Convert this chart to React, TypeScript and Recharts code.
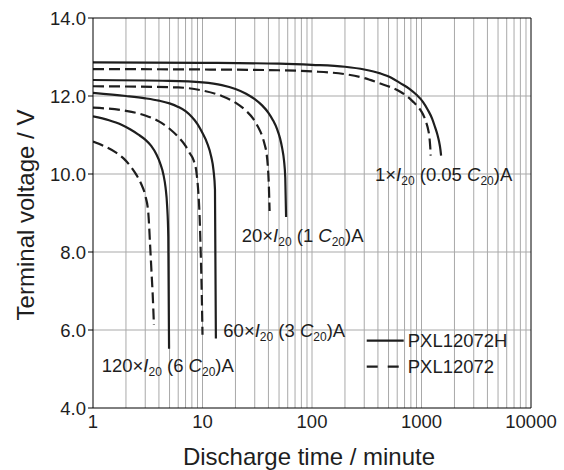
import React from 'react';
import { LineChart, Line, XAxis, YAxis, ReferenceLine, ReferenceDot } from 'recharts';

// ---- axes ----
const xTicks = [1, 10, 100, 1000, 10000];
const yTicks = [4, 6, 8, 10, 12, 14];
const xGrid = [2, 3, 4, 5, 6, 7, 8, 9, 10, 20, 30, 40, 50, 60, 70, 80, 90, 100, 200, 300, 400, 500, 600, 700, 800, 900, 1000, 2000, 3000, 4000, 5000, 6000, 7000, 8000, 9000];
const yGrid = [6, 8, 10, 12];

// ---- PXL12072H (solid) ----
const tH1 = [1, 10, 50, 100, 200, 300, 420, 530, 640, 770, 900, 1030, 1150, 1250, 1330, 1400, 1450, 1490, 1510];
const vH1 = [12.86, 12.85, 12.83, 12.8, 12.75, 12.68, 12.58, 12.47, 12.33, 12.19, 12.03, 11.85, 11.63, 11.42, 11.2, 11.0, 10.82, 10.62, 10.47];
const tH2 = [1, 5, 10, 15, 20, 25, 30, 35, 40, 44, 48, 51, 53.5, 55.5, 57, 58];
const vH2 = [12.41, 12.39, 12.35, 12.28, 12.18, 12.06, 11.92, 11.76, 11.57, 11.38, 11.15, 10.92, 10.65, 10.35, 9.9, 8.9];
const tH3 = [1, 2, 3, 4, 5, 6, 7, 8, 9, 10, 11, 12, 12.6, 13.0, 13.25];
const vH3 = [12.08, 12.0, 11.94, 11.88, 11.81, 11.72, 11.61, 11.46, 11.28, 11.05, 10.8, 10.45, 10.1, 9.6, 5.78];
const tH4 = [1, 1.4, 1.8, 2.2, 2.6, 3.0, 3.4, 3.8, 4.1, 4.4, 4.6, 4.75, 4.87, 4.95];
const vH4 = [11.48, 11.38, 11.27, 11.14, 11.01, 10.88, 10.72, 10.5, 10.28, 9.98, 9.65, 9.2, 8.4, 5.52];

// ---- PXL12072 (dashed) ----
const tS1 = [1, 10, 50, 100, 200, 300, 420, 530, 640, 740, 840, 930, 1000, 1060, 1110, 1150, 1180, 1200, 1213];
const vS1 = [12.69, 12.68, 12.66, 12.63, 12.56, 12.46, 12.32, 12.22, 12.11, 11.99, 11.85, 11.72, 11.6, 11.46, 11.3, 11.14, 10.95, 10.72, 10.47];
const tS2 = [1, 6, 10, 15, 20, 25, 29, 32, 35, 37, 38.5, 39.5, 40.3, 41];
const vS2 = [12.25, 12.22, 12.14, 12.0, 11.83, 11.62, 11.42, 11.22, 10.98, 10.75, 10.52, 10.2, 9.75, 9.05];
const tS3 = [1, 2, 3, 4, 5, 6, 7, 7.7, 8.3, 8.8, 9.15, 9.4, 9.63, 9.85, 10.0];
const vS3 = [11.7, 11.62, 11.5, 11.35, 11.16, 10.95, 10.72, 10.52, 10.35, 10.05, 9.55, 8.95, 8.0, 6.9, 5.88];
const tS4 = [1, 1.3, 1.6, 1.9, 2.2, 2.5, 2.75, 3.0, 3.2, 3.32, 3.42, 3.51, 3.6];
const vS4 = [10.83, 10.7, 10.56, 10.4, 10.2, 9.97, 9.75, 9.45, 9.0, 8.2, 7.5, 6.9, 6.13];

// ---- annotation labels ----
const rateMult = ['1', '20', '60', '120'];
const rateC = ['0.05', '1', '3', '6'];
const legendNames = ['PXL12072H', 'PXL12072'];

const toPoints = (t: number[], v: number[]) => t.map((x, i) => ({ t: x, v: v[i] }));

const FONT = '"Liberation Sans", Arial, Helvetica, sans-serif';
const INK = '#1e1e1e';
const GRID = '#a9a9a9';
const DASH = '11 5';

const seriesList = [
  { id: 'h1', data: toPoints(tH1, vH1), dash: undefined },
  { id: 'h2', data: toPoints(tH2, vH2), dash: undefined },
  { id: 'h3', data: toPoints(tH3, vH3), dash: undefined },
  { id: 'h4', data: toPoints(tH4, vH4), dash: undefined },
  { id: 's1', data: toPoints(tS1, vS1), dash: DASH },
  { id: 's2', data: toPoints(tS2, vS2), dash: DASH },
  { id: 's3', data: toPoints(tS3, vS3), dash: DASH },
  { id: 's4', data: toPoints(tS4, vS4), dash: DASH },
];

// anchor points (data coordinates) for the rate labels
const labelAnchors = [
  { t: 376, v: 9.83 },
  { t: 22.8, v: 8.26 },
  { t: 15.5, v: 5.81 },
  { t: 1.2, v: 4.93 },
];

const RateLabel = (mult: string, c: string) => (props: any) => (
  <text x={props.cx} y={props.cy} fontFamily={FONT} fontSize={18.5} fill={INK}>
    {mult}×<tspan fontStyle="italic">I</tspan>
    <tspan fontSize={12} dy={4}>20</tspan>
    <tspan dy={-4}>{` (${c} `}</tspan>
    <tspan fontStyle="italic">C</tspan>
    <tspan fontSize={12} dy={4}>20</tspan>
    <tspan dy={-4}>)A</tspan>
  </text>
);

const LegendShape = (props: any) => {
  const x = props.cx;
  const y = props.cy;
  return (
    <g fontFamily={FONT} fontSize={18.5} fill={INK}>
      <line x1={x} y1={y} x2={x + 37} y2={y} stroke={INK} strokeWidth={2.2} />
      <text x={x + 41} y={y + 6.5}>{legendNames[0]}</text>
      <line x1={x} y1={y + 26} x2={x + 33} y2={y + 26} stroke={INK} strokeWidth={2.2} strokeDasharray="11 10" />
      <text x={x + 41} y={y + 32.5}>{legendNames[1]}</text>
    </g>
  );
};

const XTitle = (props: any) => {
  const vb = props.viewBox || { x: 93, y: 408, width: 438 };
  return (
    <text x={vb.x + vb.width / 2 - 3} y={vb.y + 57} textAnchor="middle" fontFamily={FONT} fontSize={24} fill={INK}>
      Discharge time / minute
    </text>
  );
};

const YTitle = () => (
  <text x={34} y={215} textAnchor="middle" transform="rotate(-90, 34, 215)" fontFamily={FONT} fontSize={24} fill={INK}>
    Terminal voltage / V
  </text>
);

export default function App() {
  return (
    <div style={{ position: 'absolute', left: 0, top: 0, width: 564, height: 470, background: '#fff' }}>
      <LineChart width={564} height={470} margin={{ top: 18, right: 33, left: 0, bottom: 0 }}>
        <XAxis
          dataKey="t"
          type="number"
          scale="log"
          domain={[1, 10000]}
          ticks={xTicks}
          allowDataOverflow
          height={62}
          tickLine={false}
          tickSize={5}
          tickMargin={2}
          axisLine={{ stroke: '#000', strokeWidth: 1 }}
          tick={{ fill: INK, fontSize: 18.5, fontFamily: FONT }}
          interval={0}
          label={<XTitle />}
        />
        <YAxis
          type="number"
          domain={[4, 14]}
          ticks={yTicks}
          width={93}
          tickSize={5}
          tickMargin={2}
          tickFormatter={(v: number) => v.toFixed(1)}
          axisLine={{ stroke: '#000', strokeWidth: 1 }}
          tickLine={{ stroke: '#000', strokeWidth: 1 }}
          tick={{ fill: INK, fontSize: 18.5, fontFamily: FONT }}
          interval={0}
          label={<YTitle />}
        />
        {xGrid.map((g) => (
          <ReferenceLine key={'gx' + g} x={g} stroke={GRID} strokeWidth={1} zIndex={-100} />
        ))}
        {yGrid.map((g) => (
          <ReferenceLine key={'gy' + g} y={g} stroke={GRID} strokeWidth={1} zIndex={-100} />
        ))}
        <ReferenceLine y={14} stroke="#000" strokeWidth={1} />
        <ReferenceLine x={10000} stroke="#000" strokeWidth={1} />
        {seriesList.map((s) => (
          <Line
            key={s.id}
            data={s.data}
            dataKey="v"
            type="monotone"
            stroke={INK}
            strokeWidth={2.2}
            strokeDasharray={s.dash}
            dot={false}
            activeDot={false}
            isAnimationActive={false}
          />
        ))}
        {labelAnchors.map((a, i) => (
          <ReferenceDot key={'lab' + i} x={a.t} y={a.v} r={1} shape={RateLabel(rateMult[i], rateC[i])} />
        ))}
        <ReferenceDot x={316} y={5.73} r={1} shape={LegendShape} />
      </LineChart>
    </div>
  );
}
